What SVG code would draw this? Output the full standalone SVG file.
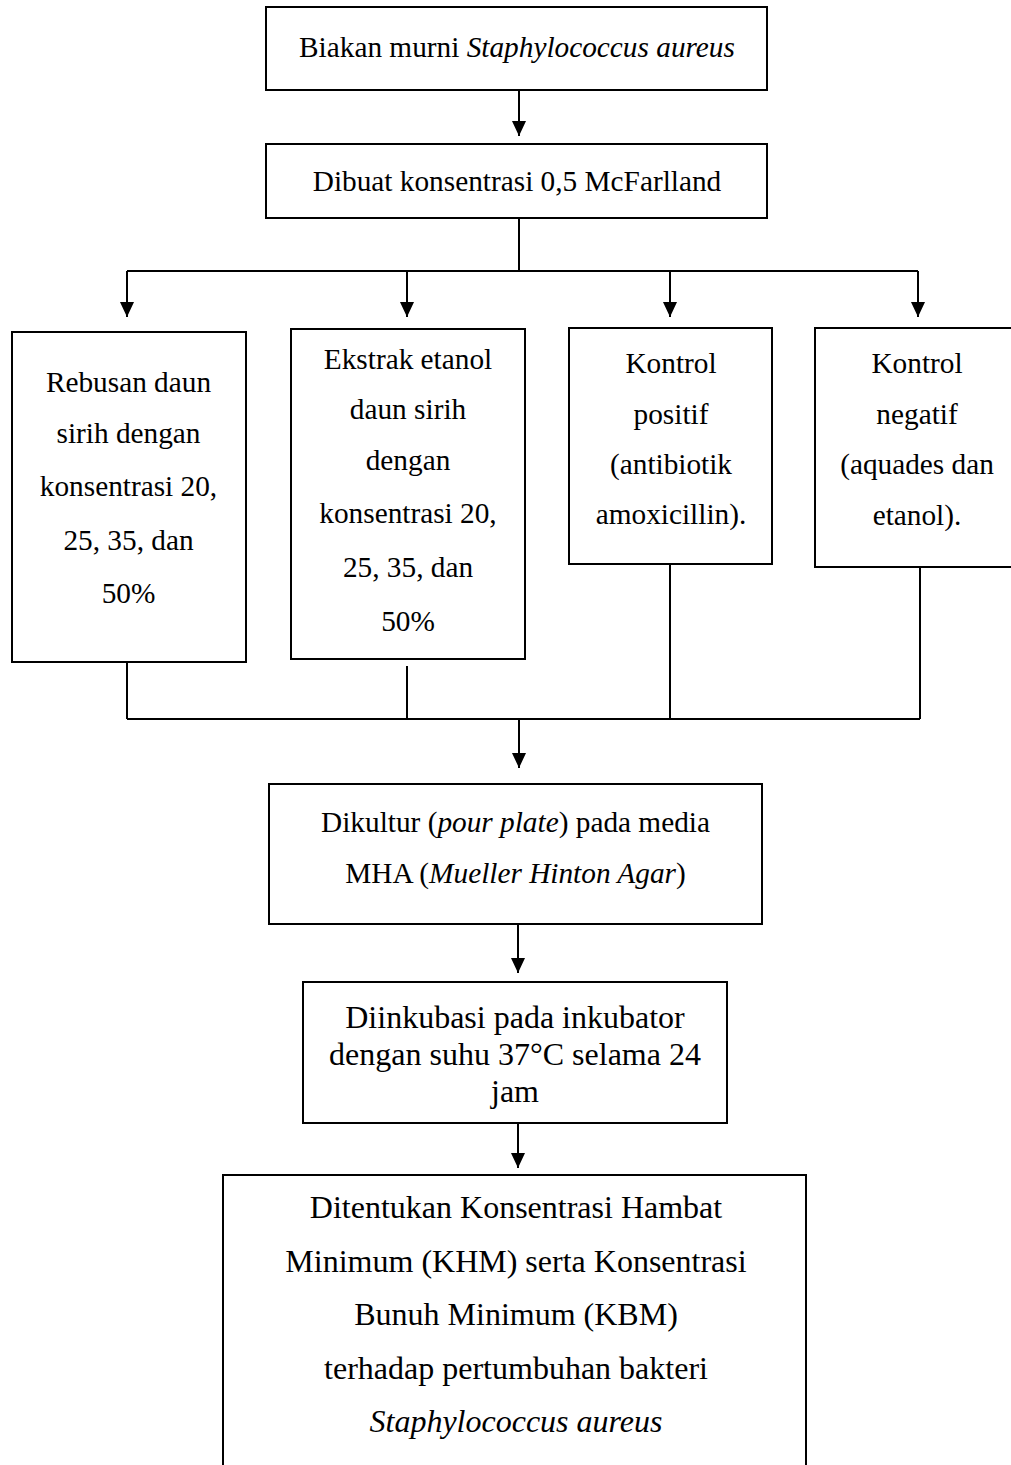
<svg xmlns="http://www.w3.org/2000/svg" width="1011" height="1465" viewBox="0 0 1011 1465">
<style>
.box{fill:#fff;stroke:#000;stroke-width:2}
.t{font-family:"Liberation Serif","Times New Roman",serif;font-size:29.3px;fill:#000;text-anchor:middle}
.t32{font-size:32px}
.i{font-style:italic}
.c{fill:none;stroke:#000;stroke-width:2}
</style>
<defs>
<marker id="ah" viewBox="0 0 15 14" markerWidth="15" markerHeight="14" refX="15" refY="7" orient="auto" markerUnits="userSpaceOnUse">
<path d="M0,0 L15,7 L0,14 z" fill="#000"/>
</marker>
</defs>
<g id="connectors">
<line class="c" x1="519" y1="90" x2="519" y2="136" marker-end="url(#ah)"/>
<polyline class="c" points="519,218 519,271"/>
<polyline class="c" points="127,271 918,271"/>
<line class="c" x1="127" y1="271" x2="127" y2="317" marker-end="url(#ah)"/>
<line class="c" x1="407" y1="271" x2="407" y2="317" marker-end="url(#ah)"/>
<line class="c" x1="670" y1="271" x2="670" y2="317" marker-end="url(#ah)"/>
<line class="c" x1="918" y1="271" x2="918" y2="317" marker-end="url(#ah)"/>
<polyline class="c" points="127,662 127,719"/>
<polyline class="c" points="407,666 407,719"/>
<polyline class="c" points="670,564 670,719"/>
<polyline class="c" points="920,567 920,719"/>
<polyline class="c" points="127,719 920,719"/>
<line class="c" x1="519" y1="719" x2="519" y2="768" marker-end="url(#ah)"/>
<line class="c" x1="518" y1="924" x2="518" y2="973" marker-end="url(#ah)"/>
<line class="c" x1="518" y1="1123" x2="518" y2="1168" marker-end="url(#ah)"/>
</g>
<g id="n1">
<rect class="box" x="266" y="7" width="501" height="83"/>
<text class="t" x="517" y="57.3">Biakan murni <tspan class="i">Staphylococcus aureus</tspan></text>
</g>
<g id="n2">
<rect class="box" x="266" y="144" width="501" height="74"/>
<text class="t" x="517" y="190.5">Dibuat konsentrasi 0,5 McFarlland</text>
</g>
<g id="n3">
<rect class="box" x="12" y="332" width="234" height="330"/>
<text class="t" x="128.5" y="392">Rebusan daun</text>
<text class="t" x="128.5" y="443">sirih dengan</text>
<text class="t" x="128.5" y="496">konsentrasi 20,</text>
<text class="t" x="128.5" y="550">25, 35, dan</text>
<text class="t" x="128.5" y="603">50%</text>
</g>
<g id="n4">
<rect class="box" x="291" y="329" width="234" height="330"/>
<text class="t" x="408" y="368.5">Ekstrak etanol</text>
<text class="t" x="408" y="419">daun sirih</text>
<text class="t" x="408" y="470">dengan</text>
<text class="t" x="408" y="523">konsentrasi 20,</text>
<text class="t" x="408" y="577">25, 35, dan</text>
<text class="t" x="408" y="631">50%</text>
</g>
<g id="n5">
<rect class="box" x="569" y="328" width="203" height="236"/>
<text class="t" x="671" y="373.3">Kontrol</text>
<text class="t" x="671" y="423.5">positif</text>
<text class="t" x="671" y="473.5">(antibiotik</text>
<text class="t" x="671" y="523.5">amoxicillin).</text>
</g>
<g id="n6">
<rect class="box" x="815" y="328" width="203" height="239"/>
<text class="t" x="917" y="373.3">Kontrol</text>
<text class="t" x="917" y="423.5">negatif</text>
<text class="t" x="917" y="473.5">(aquades dan</text>
<text class="t" x="917" y="524.5">etanol).</text>
</g>
<g id="n7">
<rect class="box" x="269" y="784" width="493" height="140"/>
<text class="t" x="515.5" y="831.7">Dikultur (<tspan class="i">pour plate</tspan>) pada media</text>
<text class="t" x="515.5" y="883.3">MHA (<tspan class="i">Mueller Hinton Agar</tspan>)</text>
</g>
<g id="n8">
<rect class="box" x="303" y="982" width="424" height="141"/>
<text class="t t32" x="515" y="1028.3">Diinkubasi pada inkubator</text>
<text class="t t32" x="515" y="1065">dengan suhu 37°C selama 24</text>
<text class="t t32" x="515" y="1101.7">jam</text>
</g>
<g id="n9">
<rect class="box" x="223" y="1175" width="583" height="310"/>
<text class="t t32" x="516" y="1218">Ditentukan Konsentrasi Hambat</text>
<text class="t t32" x="516" y="1271.5">Minimum (KHM) serta Konsentrasi</text>
<text class="t t32" x="516" y="1325">Bunuh Minimum (KBM)</text>
<text class="t t32" x="516" y="1378.5">terhadap pertumbuhan bakteri</text>
<text class="t t32 i" x="516" y="1432">Staphylococcus aureus</text>
</g>
</svg>
